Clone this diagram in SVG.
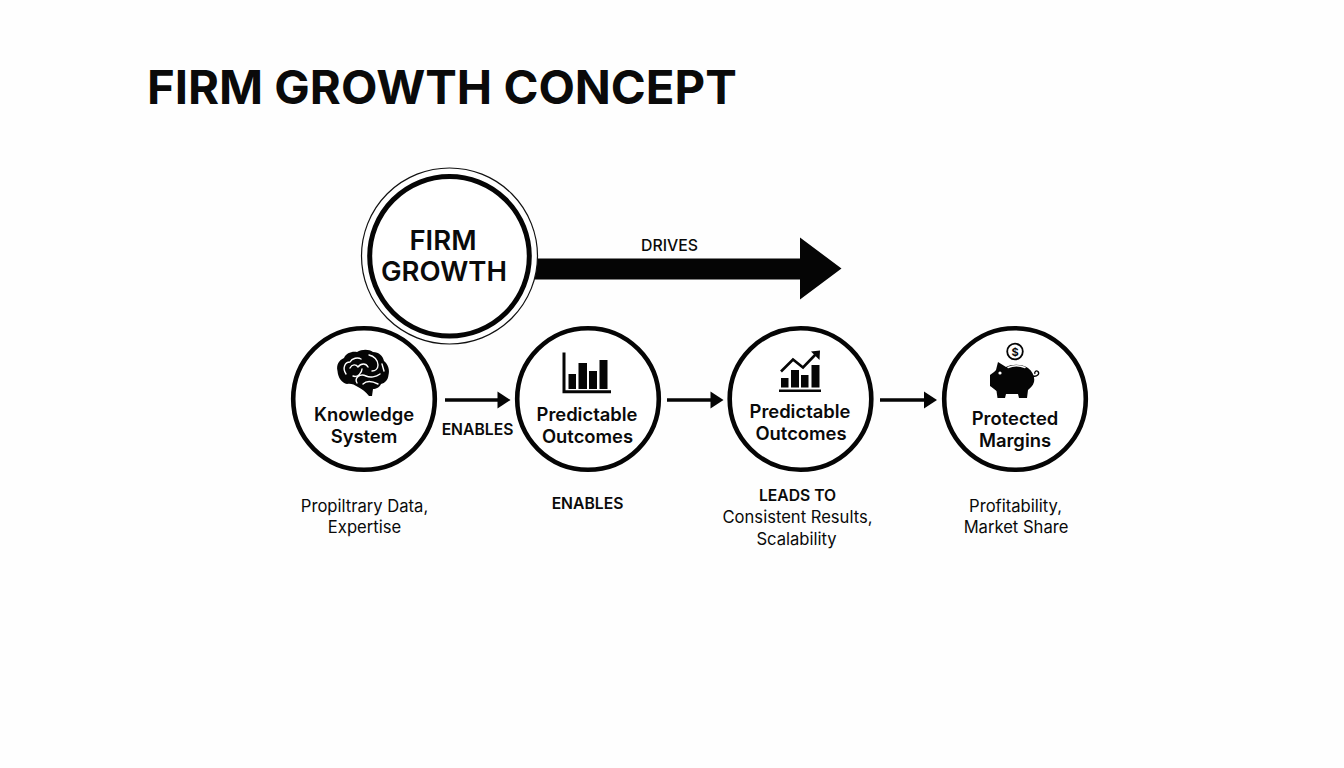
<svg xmlns="http://www.w3.org/2000/svg" width="1344" height="768" viewBox="0 0 1344 768">
<style>
text{font-family:"Inter","Open Sans","Liberation Sans",sans-serif;fill:#0a0a0a;text-anchor:middle}
.title{font-size:47.300px;font-weight:700;text-anchor:start}
.big{font-size:27.500px;font-weight:600}
.n{font-size:18.400px;font-weight:600}
.l{font-size:15.700px;font-weight:600}
.s{font-size:16.600px;font-weight:400}
.ring{fill:#fff;stroke:#050505;stroke-width:4.6}
.ln{fill:none;stroke:#050505;stroke-width:3.4}
.head{fill:#050505}
.wl{fill:none;stroke:#fff;stroke-width:1.4;stroke-linecap:round;stroke-linejoin:round}
.k{fill:#050505}
</style>
<rect width="1344" height="768" fill="#fefefe"/>
<text class="title" x="147" y="104">FIRM GROWTH CONCEPT</text>
<g id="connectors">
<path id="drives-arrow" class="k" d="M535 258.500H800V237.500L841.500 268.500L800 299.500V279.500H535Z"/>
<path class="ln" d="M445 400H499"/><path class="head" d="M497.500 391.500L510.500 400L497.500 408.500Z"/>
<path class="ln" d="M667 400H712"/><path class="head" d="M710.500 391.500L723.500 400L710.500 408.500Z"/>
<path class="ln" d="M880 400H925"/><path class="head" d="M924 391.500L937 400L924 408.500Z"/>
<text style="font-size:15.800px;font-weight:500" x="669.500" y="251">DRIVES</text>
<text class="l" x="477.500" y="435">ENABLES</text>
</g>
<g id="firm-growth">
<circle cx="449.500" cy="256" r="88" fill="#fff" stroke="#111" stroke-width="1.2"/>
<circle cx="449.500" cy="256.300" r="79.800" fill="#fff" stroke="#050505" stroke-width="5"/>
<text class="big" x="443" y="250">FIRM</text>
<text class="big" x="444" y="281">GROWTH</text>
</g>
<g id="knowledge-system">
<circle class="ring" cx="364" cy="399" r="70.800"/>
<path class="k" d="M337.500 371C336 365 339 360 344 358C346 353 352 351 357 352C362 349 369 349 373 352C379 352 383 356 384 361C388 364 390 370 388.500 375C388 380 385 383 381 384C380 387 376 389 373 389L372 396L369 396C366 392 362 389 358 387C354 384 350 383 347 384C342 383 338 378 337.500 371Z"/>
<path class="wl" d="M346 374C342 368 345 362 350 362C352 358 358 357 361 359M350 368C352 364 356 364 358 367C361 363 366 363 368 367M353 376C358 378 362 372 362 369M357 383C354 378 360 373 366 376C370 378 376 377 380 374M363 384C367 380 372 381 378 384M369 355C374 356 378 360 378 365C378 369 375 371 372 371M382 364L384 371"/>
<text class="n" x="364" y="421">Knowledge</text>
<text class="n" x="364" y="443">System</text>
<text class="s" x="364.500" y="512">Propiltrary Data,</text>
<text class="s" x="364.500" y="533">Expertise</text>
</g>
<g id="predictable-outcomes-1">
<circle class="ring" cx="588" cy="399" r="70.800"/>
<path class="k" d="M562.500 352.500H565.500V390.300H611V393.300H562.500Z"/>
<rect class="k" x="568.500" y="374" width="7.500" height="15"/>
<rect class="k" x="578.500" y="363" width="8.500" height="26"/>
<rect class="k" x="589" y="371" width="8" height="18"/>
<rect class="k" x="599.500" y="360" width="8" height="29"/>
<text class="n" x="587" y="421">Predictable</text>
<text class="n" x="587.500" y="443">Outcomes</text>
<text class="l" x="587.500" y="509">ENABLES</text>
</g>
<g id="predictable-outcomes-2">
<circle class="ring" cx="800.500" cy="399" r="70.800"/>
<rect class="k" x="781" y="378" width="7.500" height="9.500"/>
<rect class="k" x="791" y="370" width="8" height="17.500"/>
<rect class="k" x="801" y="375" width="7.500" height="12.500"/>
<rect class="k" x="811.500" y="365" width="8" height="22.500"/>
<rect class="k" x="779" y="389.500" width="42" height="2.500"/>
<path fill="none" stroke="#050505" stroke-width="2.600" d="M781 371.500L793 359.500L803 367.500L816 354"/>
<path class="k" d="M811 351.500L820 350.500L819.500 360Z"/>
<text class="n" x="800" y="418">Predictable</text>
<text class="n" x="801" y="440">Outcomes</text>
<text class="l" x="797.500" y="501">LEADS TO</text>
<text class="s" x="797.500" y="523">Consistent Results,</text>
<text class="s" x="796.500" y="545">Scalability</text>
</g>
<g id="protected-margins">
<circle class="ring" cx="1015" cy="399" r="70.800"/>
<circle cx="1015" cy="351.500" r="7.800" fill="#fff" stroke="#050505" stroke-width="1.800"/>
<text x="1015" y="355.500" style="font-size:11px;font-weight:700">$</text>
<path class="k" d="M998 362L1006 367C1012 364 1022 364 1028 368C1033 372 1035 377 1034 382C1033 386 1030 388 1028 390L1027 398H1019L1018 394H1006L1005 398H997.500L996.500 391C994 389 992 387 990 386L990 375C992 373 995 372 996 370Z"/>
<path class="wl" d="M1008 367.500C1013 365.500 1020 365.500 1025 367.500"/>
<circle cx="1000" cy="373" r="1.600" fill="#fff"/>
<path fill="none" stroke="#050505" stroke-width="1.300" d="M1033 376C1037 377 1040 374 1038 371.500C1036 370 1034 372 1035 374"/>
<text class="n" x="1015" y="425">Protected</text>
<text class="n" x="1015" y="447">Margins</text>
<text class="s" x="1015.500" y="512">Profitability,</text>
<text class="s" x="1016" y="533">Market Share</text>
</g>
</svg>
